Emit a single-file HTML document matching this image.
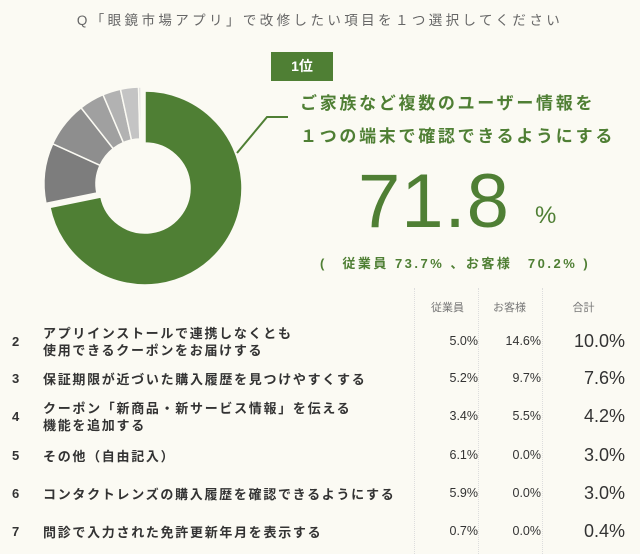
<!DOCTYPE html>
<html><head><meta charset="utf-8">
<style>
html,body{margin:0;padding:0;background:#fbfaf3;}
body{width:640px;height:554px;position:relative;overflow:hidden;font-family:"Liberation Sans","Noto Sans CJK JP",sans-serif;color:#333;}
.abs{position:absolute;white-space:nowrap;}
</style></head><body>
<div class="abs" style="left:0;width:640px;top:9px;text-align:center;font-size:13.5px;color:#666;letter-spacing:3.4px;">Q「眼鏡市場アプリ」で改修したい項目を１つ選択してください</div>
<svg id="donut" width="640" height="300" style="position:absolute;left:0;top:0"></svg>
<div class="abs" style="left:271px;top:52px;width:62px;height:29px;background:#4f7f34;color:#fff;font-size:14px;font-weight:bold;text-align:center;line-height:29px;">1位</div>
<div class="abs" style="left:300px;top:87px;font-size:17px;font-weight:bold;color:#4f7f34;letter-spacing:2.7px;line-height:33px;">ご家族など複数のユーザー情報を<br>１つの端末で確認できるようにする</div>
<div class="abs" style="left:358px;top:158px;font-size:76px;color:#4f7f34;letter-spacing:1px;">71.8</div>
<div class="abs" style="left:535px;top:202px;font-size:24px;color:#4f7f34;">%</div>
<div class="abs" style="left:320px;top:253px;font-size:13px;font-weight:bold;color:#4f7f34;letter-spacing:2.5px;">(　従業員 73.7% 、お客様　70.2% )</div>
<div id="table"></div>
<script>
const labels=["ご家族など複数のユーザー情報を１つの端末で確認できるようにする","アプリインストールで連携しなくとも\n使用できるクーポンをお届けする","保証期限が近づいた購入履歴を見つけやすくする","クーポン「新商品・新サービス情報」を伝える\n機能を追加する","その他（自由記入）","コンタクトレンズの購入履歴を確認できるようにする","問診で入力された免許更新年月を表示する"];
const totals=[71.8,10.0,7.6,4.2,3.0,3.0,0.4];
const staff=[73.7,5.0,5.2,3.4,6.1,5.9,0.7];
const customers=[70.2,14.6,9.7,5.5,0.0,0.0,0.0];
const NS="http://www.w3.org/2000/svg";
const svg=document.getElementById('donut');
const cx=145,cy=188,R=97,r=45;
const grays=["#7d7d7d","#8e8e8e","#a0a0a0","#b2b2b2","#c4c4c4","#d6d6d6"];
function pt(a,rad,ox,oy){return [cx+ox+rad*Math.sin(a),cy+oy-rad*Math.cos(a)];}
const sum=totals.reduce((a,b)=>a+b,0);
let acc=0;
totals.forEach((v,i)=>{
  const a0=acc/sum*2*Math.PI,a1=(acc+v)/sum*2*Math.PI;acc+=v;
  let ox=0,oy=0;
  if(i>0){ox=-4;oy=-4;}
  const p0=pt(a0,R,ox,oy),p1=pt(a1,R,ox,oy),q1=pt(a1,r,ox,oy),q0=pt(a0,r,ox,oy);
  const lg=(a1-a0)>Math.PI?1:0;
  const p=document.createElementNS(NS,'path');
  p.setAttribute('d',`M${p0[0]},${p0[1]}A${R},${R} 0 ${lg} 1 ${p1[0]},${p1[1]}L${q1[0]},${q1[1]}A${r},${r} 0 ${lg} 0 ${q0[0]},${q0[1]}Z`);
  p.setAttribute('fill',i===0?'#4f7f34':grays[i-1]);
  p.setAttribute('stroke','#fbfaf3');p.setAttribute('stroke-width','1.5');
  
  
  svg.appendChild(p);
});
const ld=document.createElementNS(NS,'polyline');
ld.setAttribute('points','237,153 267,117 288,117');
ld.setAttribute('fill','none');ld.setAttribute('stroke','#4f7f34');ld.setAttribute('stroke-width','2');


svg.appendChild(ld);

const tbl=document.getElementById('table');
function add(html,style,name){const d=document.createElement('div');d.className='abs';d.style.cssText=style;d.innerHTML=html;


tbl.appendChild(d);return d;}
[414,478,542].forEach((x,i)=>{const d=add('',`left:${x}px;top:288px;height:266px;border-left:1px dotted #ddd;`,'column-divider');});
add('従業員','left:420px;top:299px;width:55px;text-align:center;font-size:11px;color:#777;','header-staff');
add('お客様','left:482px;top:299px;width:55px;text-align:center;font-size:11px;color:#777;','header-customers');
add('合計','left:556px;top:299px;width:55px;text-align:center;font-size:11px;color:#777;','header-total');
const rowY=[342,379,417,456,494,532];
for(let i=1;i<totals.length;i++){
  const y=rowY[i-1];
  const lines=labels[i].split('\n');
  add(String(i+1),`left:12px;top:${y-8}px;font-size:13px;font-weight:bold;`,'rank-number');
  const lh=17;
  add(lines.join('<br>'),`left:43px;top:${y-lines.length*lh/2}px;font-size:13px;font-weight:bold;line-height:${lh}px;letter-spacing:1.7px;`,'item-label');
  add(staff[i].toFixed(1)+'%',`left:400px;width:78px;text-align:right;top:${y-8}px;font-size:12.5px;`,'staff-value');
  add(customers[i].toFixed(1)+'%',`left:463px;width:78px;text-align:right;top:${y-8}px;font-size:12.5px;`,'customer-value');
  add(totals[i].toFixed(1)+'%',`left:525px;width:100px;text-align:right;top:${y-11}px;font-size:18px;`,'total-value');
}
</script>
</body></html>
